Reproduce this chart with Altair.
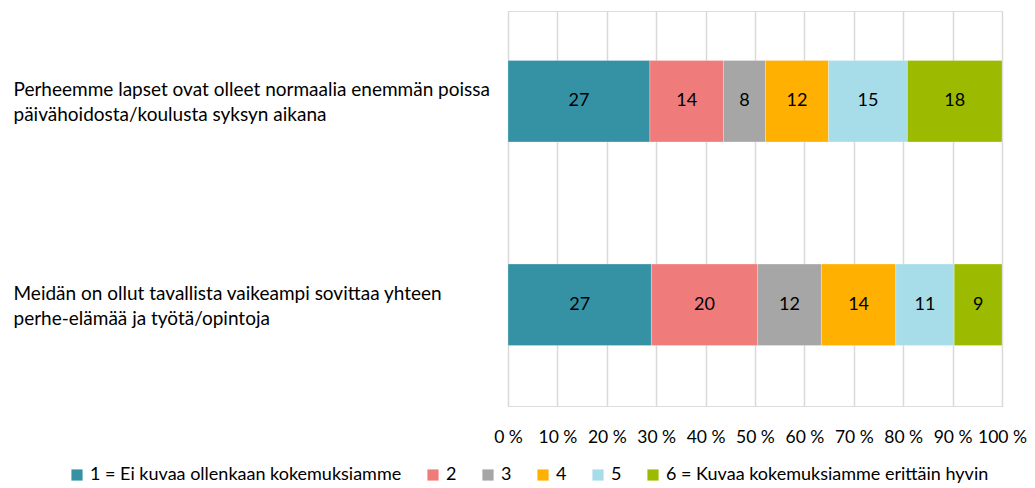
import altair as alt
import pandas as pd

questions = [
    "Perheemme lapset ovat olleet normaalia enemmän poissa|päivähoidosta/koulusta syksyn aikana",
    "Meidän on ollut tavallista vaikeampi sovittaa yhteen|perhe-elämää ja työtä/opintoja",
]
categories = [
    "1 = Ei kuvaa ollenkaan kokemuksiamme",
    "2",
    "3",
    "4",
    "5",
    "6 = Kuvaa kokemuksiamme erittäin hyvin",
]
values_q1 = [27, 14, 8, 12, 15, 18]
values_q2 = [27, 20, 12, 14, 11, 9]
colors = ["#3592A5", "#F07B7B", "#A6A6A6", "#FFB000", "#A6DDE8", "#9CBB00"]
ticks = [0, 0.1, 0.2, 0.3, 0.4, 0.5, 0.6, 0.7, 0.8, 0.9, 1.0]

rows = []
for q, vals in zip(questions, [values_q1, values_q2]):
    for i, (c, v) in enumerate(zip(categories, vals)):
        rows.append({"question": q, "category": c, "order": i, "value": v})
df = pd.DataFrame(rows)

FONT = "Lato"
FSY = 19
FST = 17.5
FSB = 18
FSL = 18

PAD_L = 500
W = 494

base = alt.Chart(df).transform_joinaggregate(
    total="sum(value)", groupby=["question"]
).transform_window(
    cum="sum(value)", sort=[alt.SortField("order")], groupby=["question"],
    frame=[None, 0]
).transform_calculate(
    start="(datum.cum - datum.value) / datum.total",
    end="datum.cum / datum.total",
    mid="(2*datum.cum - datum.value) / (2*datum.total)",
)

y_enc = alt.Y(
    "question:N",
    sort=questions,
    title=None,
    scale=alt.Scale(paddingInner=0.6, paddingOuter=0.27, align=0.45),
    axis=alt.Axis(
        domain=False, ticks=False, tickSize=0, grid=False,
        labelAlign="left", labelBaseline="middle", labelPadding=PAD_L - 5,
        labelLimit=600, labelFont=FONT, labelFontSize=FSY, labelColor="#000000",
        labelLineHeight=25, labelOffset=-11,
        labelExpr="split(datum.label, '|')",
    ),
)

bars = base.mark_bar(stroke="#FFFFFF", strokeWidth=0.5, strokeOpacity=0.5).encode(
    x=alt.X(
        "start:Q",
        scale=alt.Scale(domain=[0, 1], nice=False),
        title=None,
        axis=alt.Axis(
            values=ticks, domain=False, ticks=False, grid=True,
            gridColor="#D9D9D9", gridWidth=1.5,
            labelExpr="round(datum.value*100) + ' %'",
            labelFont=FONT, labelFontSize=FST, labelColor="#000000",
            labelPadding=22, labelOverlap=False, labelFlush=False,
        ),
    ),
    x2="end:Q",
    y=y_enc,
    color=alt.Color(
        "category:N",
        sort=categories,
        scale=alt.Scale(domain=categories, range=colors),
        legend=alt.Legend(
            title=None, orient="none", direction="horizontal",
            legendX=74 - 6 - 8 - PAD_L, legendY=455, labelLimit=600,
            symbolType="square", symbolSize=125, symbolStrokeWidth=0,
            labelFont=FONT, labelFontSize=FSL, labelColor="#000000",
            columnPadding=22, symbolOffset=0, labelOffset=4,
        ),
    ),
)

labels = base.mark_text(font=FONT, fontSize=FSB, color="#000000").encode(
    x="mid:Q",
    y=alt.Y("question:N", sort=questions),
    text="value:Q",
)

chart = alt.layer(bars, labels).properties(
    width=W, height=395,
    autosize=alt.AutoSizeParams(type="none"),
    padding={"left": PAD_L, "top": 3, "right": 25, "bottom": 80},
).configure_view(stroke=None).configure(background="#FFFFFF")

chart.save("out.html", embed_options={"renderer": "svg", "actions": False})
